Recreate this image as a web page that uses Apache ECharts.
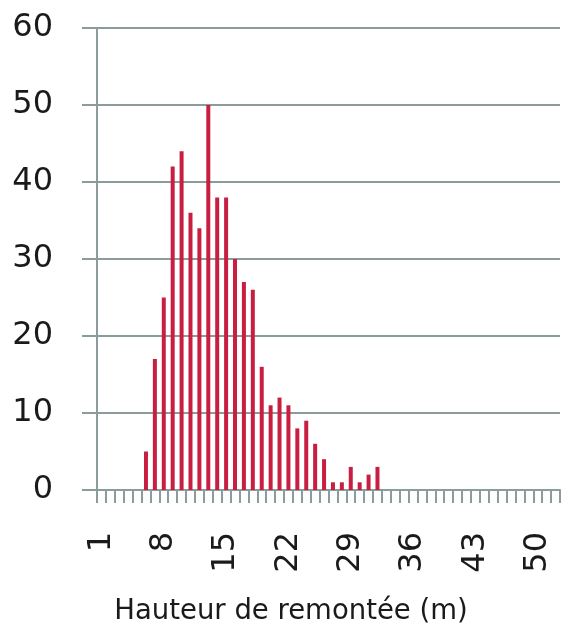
<!DOCTYPE html>
<html>
<head>
<meta charset="utf-8">
<script src="https://cdn.jsdelivr.net/npm/echarts@6/dist/echarts.min.js"></script>
<style>
html,body{margin:0;padding:0;background:#fff;}
#chart{width:571px;height:628px;}
</style>
</head>
<body>
<div id="chart"></div>
<script>
// Categories 1..52 (height in m)
var categories = ["1","2","3","4","5","6","7","8","9","10","11","12","13","14","15","16","17","18","19","20","21","22","23","24","25","26","27","28","29","30","31","32","33","34","35","36","37","38","39","40","41","42","43","44","45","46","47","48","49","50","51","52"];
var counts = [0,0,0,0,0,5,17,25,42,44,36,34,50,38,38,30,27,26,16,11,12,11,8,9,6,4,1,1,3,1,2,3,0,0,0,0,0,0,0,0,0,0,0,0,0,0,0,0,0,0,0,0];
var yTicks = [0,10,20,30,40,50,60];
var xTitle = "Hauteur de remontée (m)";

var axisColor = '#8A9C9B';
var chart = echarts.init(document.getElementById('chart'), null, {renderer:'canvas'});
chart.setOption({
  animation:false,
  grid:{left:97,right:11,top:28,bottom:138,containLabel:false},
  xAxis:{
    type:'category',
    data:categories,
    boundaryGap:true,
    axisLine:{show:true,lineStyle:{color:axisColor,width:2}},
    axisTick:{show:true,interval:0,alignWithLabel:false,length:13,lineStyle:{color:axisColor,width:2}},
    axisLabel:{interval:6,rotate:90,margin:42,padding:[10,0,0,0],fontFamily:'DejaVu Sans',fontSize:32,color:'#1a1a1a'},
    splitLine:{show:false}
  },
  yAxis:{
    type:'value',
    min:yTicks[0],max:yTicks[yTicks.length-1],interval:10,
    axisLine:{show:true,lineStyle:{color:axisColor,width:2}},
    axisTick:{show:true,length:15,lineStyle:{color:axisColor,width:2}},
    axisLabel:{margin:44,fontFamily:'DejaVu Sans',fontSize:32,color:'#1a1a1a'},
    splitLine:{show:true,lineStyle:{color:axisColor,width:2}}
  },
  series:[{
    type:'bar',
    data:counts,
    barWidth:4,
    itemStyle:{color:'#C81E41'}
  }],
  graphic:[{
    type:'text',
    style:{x:291,y:612,text:xTitle,textAlign:'center',textVerticalAlign:'middle',fontFamily:'DejaVu Sans',fontSize:27.5,fill:'#1a1a1a'}
  }]
});
</script>
</body>
</html>
